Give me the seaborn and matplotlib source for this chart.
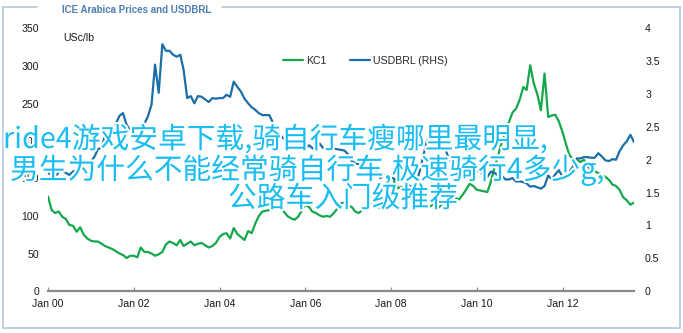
import numpy as np
import pandas as pd
import matplotlib
matplotlib.use("Agg")
import matplotlib.pyplot as plt
import matplotlib.patheffects as pe
from matplotlib.lines import Line2D
from matplotlib import font_manager
import seaborn as sns

# ---- data -------------------------------------------------------------
start_month = "2000-01-01"
n_months = 165

# ICE Arabica front month (US cents/lb), month by month from Jan 2000
kc1 = [
    126, 108, 104, 106, 99, 96, 88, 87, 79, 85, 75, 70,
    67, 66, 66, 63, 60, 58, 56, 53, 50, 48, 44, 47,
    47, 45, 58, 52, 52, 50, 47, 49, 52, 62, 66, 64,
    61, 68, 60, 63, 66, 61, 63, 64, 61, 58, 60, 64,
    72, 76, 77, 70, 84, 76, 72, 68, 80, 77, 90, 100,
    106, 107, 108, 108, 112, 115, 106, 100, 97, 95, 99, 107,
    115, 112, 106, 104, 101, 99, 100, 99, 104, 110, 117, 118,
    114, 112, 106, 104, 108, 112, 114, 117, 114, 110, 109, 122,
    126, 150, 137, 139, 133, 132, 138, 131, 128, 118, 115, 113,
    116, 110, 114, 117, 126, 134, 124, 122, 128, 135, 143, 140,
    135, 134, 133, 132, 146, 165, 180, 198, 210, 225, 238, 243,
    255, 272, 268, 301, 277, 262, 241, 290, 232, 234, 235, 226,
    212, 195, 181, 176, 175, 172, 175, 166, 162, 160, 157, 155,
    152, 148, 142, 140, 135, 125, 121, 115, 118,
]

# USD/BRL exchange rate (right-hand scale)
usdbrl = [
    1.80, 1.77, 1.74, 1.81, 1.83, 1.80, 1.77, 1.82, 1.84, 1.91, 1.96, 1.95,
    1.97, 2.05, 2.16, 2.19, 2.36, 2.30, 2.43, 2.55, 2.67, 2.71, 2.53, 2.46,
    2.48, 2.47, 2.52, 2.55, 2.66, 2.84, 3.45, 3.02, 3.76, 3.66, 3.66, 3.60,
    3.57, 3.60, 3.37, 2.94, 2.97, 2.86, 2.97, 2.96, 2.92, 2.88, 2.94, 2.93,
    2.94, 2.94, 2.99, 2.96, 3.19, 3.11, 3.04, 2.93, 2.86, 2.80, 2.76, 2.71,
    2.68, 2.68, 2.68, 2.56, 2.43, 2.38, 2.32, 2.30, 2.22, 2.25, 2.21, 2.28,
    2.17, 2.22, 2.18, 2.14, 2.25, 2.18, 2.18, 2.20, 2.17, 2.16, 2.15, 2.14,
    2.08, 1.98, 1.95, 1.93, 1.90, 1.86, 1.80, 1.86, 1.82, 1.72, 1.76, 1.76,
    1.74, 1.70, 1.72, 1.69, 1.66, 1.61, 1.58, 1.65, 1.82, 2.05, 2.28, 2.35,
    2.40, 2.36, 2.32, 2.20, 2.05, 1.96, 1.92, 1.86, 1.82, 1.77, 1.76, 1.76,
    1.84, 1.81, 1.77, 1.74, 1.82, 1.80, 1.76, 1.76, 1.70, 1.70, 1.72, 1.67,
    1.67, 1.66, 1.64, 1.59, 1.60, 1.58, 1.56, 1.60, 1.76, 1.70, 1.78, 1.84,
    1.74, 1.72, 1.82, 1.90, 2.02, 2.02, 2.04, 2.04, 2.03, 2.03, 2.10, 2.05,
    1.99, 1.98, 2.01, 2.00, 2.13, 2.22, 2.28, 2.38, 2.27,
]

left_ticks = [0, 50, 100, 150, 200, 250, 300, 350]
right_ticks = [0, 0.5, 1, 1.5, 2, 2.5, 3, 3.5, 4]
right_labels = ["0", "0.5", "1", "1.5", "2", "2.5", "3", "3.5", "4"]
x_tick_dates = ["2000-01-01", "2002-01-01", "2004-01-01", "2006-01-01",
                "2008-01-01", "2010-01-01", "2012-01-01"]
x_tick_labels = ["Jan 00", "Jan 02", "Jan 04", "Jan 06", "Jan 08", "Jan 10", "Jan 12"]
series_names = ["KC1", "USDBRL (RHS)"]

title = "ICE Arabica Prices and USDBRL"
unit_label = "USc/lb"
overlay_lines = [
    "ride4游戏安卓下载,骑自行车瘦哪里最明显,",
    "男生为什么不能经常骑自行车,极速骑行4多少g,",
    "公路车入门级推荐",
]

# ---- styling ----------------------------------------------------------
sns.set_theme(style="white")
plt.rcParams["font.family"] = ["Liberation Sans", "DejaVu Sans"]

installed = {f.name for f in font_manager.fontManager.ttflist}
if "Liberation Sans Narrow" in installed:
    title_family, title_size = ["Liberation Sans Narrow"], 8.2
else:
    title_family, title_size = ["Liberation Sans"], 7.0

GREEN = "#14a84a"
BLUE = "#1b6ea6"
AXIS_GREY = "#8a8a8a"
FRAME = "#b3c7dc"
TITLE_C = "#4d7db3"
TEXT_C = "#1a1a1a"
OVERLAY_C = "#19bdf2"

W, H = 683, 333
fig = plt.figure(figsize=(W / 100, H / 100), dpi=100)
fig.patch.set_facecolor("white")


def fx(px):
    return px / W


def fy(py):
    return 1 - py / H


ax = fig.add_axes([fx(48), fy(291), fx(634) - fx(48), fy(28.5) - fy(291)])
ax2 = ax.twinx()

df = pd.DataFrame({
    "date": pd.date_range(start_month, periods=n_months, freq="MS"),
    "kc1": kc1,
    "usdbrl": usdbrl,
})

sns.lineplot(data=df, x="date", y="kc1", ax=ax, color=GREEN, linewidth=1.6)
sns.lineplot(data=df, x="date", y="usdbrl", ax=ax2, color=BLUE, linewidth=1.6)

ax.set_xlim(df["date"].iloc[0], df["date"].iloc[-1])
ax.set_ylim(0, 350)
ax2.set_ylim(0, 4)

for a in (ax, ax2):
    a.set_xlabel("")
    a.set_ylabel("")
    a.grid(False)
    a.set_facecolor("none")
    for s in ("top", "left", "right", "bottom"):
        a.spines[s].set_visible(False)

ax.spines["bottom"].set_visible(True)
ax.spines["bottom"].set_color(AXIS_GREY)
ax.spines["bottom"].set_linewidth(1.6)

ax.set_xticks(pd.to_datetime(x_tick_dates))
ax.set_xticklabels(x_tick_labels)
ax.tick_params(axis="x", direction="in", length=3, width=0.8, color=AXIS_GREY,
               labelsize=7.6, labelcolor=TEXT_C, pad=6, bottom=True)

ax.set_yticks(left_ticks)
ax.set_yticklabels([str(v) for v in left_ticks])
ax.tick_params(axis="y", length=0, labelsize=7.6, labelcolor=TEXT_C, pad=6.5)

ax2.set_yticks(right_ticks)
ax2.set_yticklabels(right_labels)
ax2.tick_params(axis="y", length=0, labelsize=7.6, labelcolor=TEXT_C, pad=8)

# legend
handles = [Line2D([], [], color=GREEN, lw=1.6), Line2D([], [], color=BLUE, lw=1.6)]
fig.legend(handles, series_names, loc="center left", bbox_to_anchor=(fx(283), fy(61)),
           ncol=2, frameon=False, fontsize=7.6, handlelength=1.9, handletextpad=0.3,
           columnspacing=2.2, borderpad=0, borderaxespad=0)

# unit label and title
fig.text(fx(63), fy(38), unit_label, fontsize=7.6, color=TEXT_C, va="center", ha="left")
fig.text(fx(62), fy(10), title, fontsize=title_size, fontweight="bold", color=TITLE_C,
         va="center", ha="left", family=title_family)

# surrounding box with a gap for the title
frame_kw = dict(color=FRAME, lw=1.2, transform=fig.transFigure, clip_on=False)
fig.add_artist(Line2D([fx(3), fx(3)], [fy(7), fy(328)], **frame_kw))
fig.add_artist(Line2D([fx(3), fx(680)], [fy(328), fy(328)], **frame_kw))
fig.add_artist(Line2D([fx(680), fx(680)], [fy(7), fy(328)], **frame_kw))
fig.add_artist(Line2D([fx(3), fx(37)], [fy(7), fy(7)], **frame_kw))
fig.add_artist(Line2D([fx(222), fx(680)], [fy(7), fy(7)], **frame_kw))

# overlaid caption
stroke = [pe.withStroke(linewidth=3, foreground="white")]
positions = [(3, 140), (10, 170), (228, 199)]
for line, (px, py) in zip(overlay_lines, positions):
    fig.text(fx(px), fy(py), line, fontsize=20.7, color=OVERLAY_C, va="center", ha="left",
             family=["Noto Sans CJK SC", "DejaVu Sans"], path_effects=stroke, zorder=10)

fig.savefig("out.png", dpi=100, facecolor="white")
